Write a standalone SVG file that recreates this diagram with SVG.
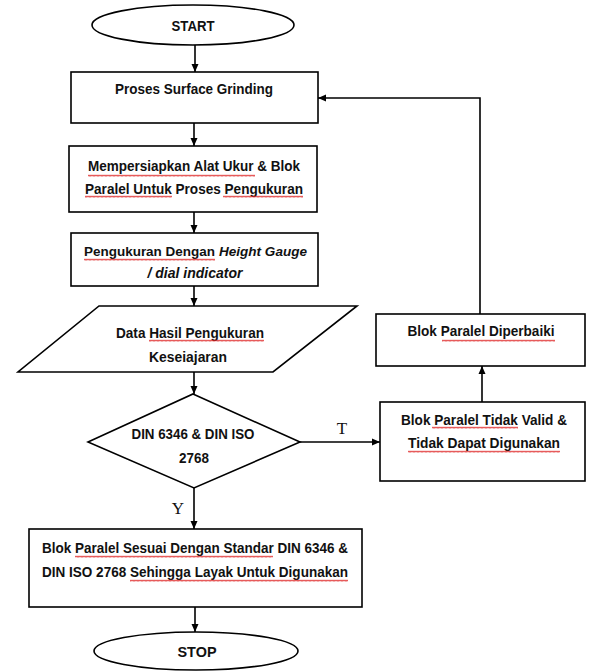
<svg xmlns="http://www.w3.org/2000/svg" width="592" height="671" viewBox="0 0 592 671">
<style>
.shape{fill:#fff;stroke:#000;stroke-width:1.6}
.t{font-family:"Liberation Sans Narrow","Liberation Sans",Arial,sans-serif;font-weight:bold;font-size:15px;fill:#111;text-anchor:middle}
.l{text-anchor:start;font-size:13px}
.it{font-style:italic}
.lbl{font-family:"Liberation Serif","Times New Roman",serif;font-size:17px;fill:#111;text-anchor:middle}
.conn{fill:none;stroke:#000;stroke-width:1.6}
.sq{fill:url(#squig)}
</style>
<defs>
<marker id="ah" markerUnits="userSpaceOnUse" markerWidth="9" markerHeight="9" refX="8" refY="4" orient="auto">
<path d="M0,0.5 L8,4 L0,7.5 z" fill="#000"/>
</marker>
<pattern id="squig" patternUnits="userSpaceOnUse" width="4" height="3">
<path d="M0,2.5 L1,0.8 L2,2.5 L3,0.8 L4,2.5" fill="none" stroke="#d22" stroke-width="0.8"/>
</pattern>
</defs>

<g id="connectors">
<line class="conn" x1="195" y1="45" x2="195" y2="72" marker-end="url(#ah)"/>
<line class="conn" x1="194" y1="123" x2="194" y2="146" marker-end="url(#ah)"/>
<line class="conn" x1="194" y1="212" x2="194" y2="233" marker-end="url(#ah)"/>
<line class="conn" x1="194" y1="286" x2="194" y2="306" marker-end="url(#ah)"/>
<line class="conn" x1="194" y1="372" x2="194" y2="394" marker-end="url(#ah)"/>
<line class="conn" x1="300" y1="442" x2="380" y2="442" marker-end="url(#ah)"/>
<line class="conn" x1="194" y1="488" x2="194" y2="529" marker-end="url(#ah)"/>
<line class="conn" x1="195" y1="607" x2="195" y2="632" marker-end="url(#ah)"/>
<line class="conn" x1="482" y1="402" x2="482" y2="366" marker-end="url(#ah)"/>
<path class="conn" d="M480,314 V98 H318" marker-end="url(#ah)"/>
<text class="lbl" x="342" y="434">T</text>
<text class="lbl" x="178" y="514">Y</text>
</g>

<g id="start">
<ellipse class="shape" cx="193" cy="25" rx="101" ry="20"/>
<text class="t" x="193" y="31" textLength="43" lengthAdjust="spacingAndGlyphs">START</text>
</g>

<g id="grinding">
<rect class="shape" x="71" y="72" width="247" height="51"/>
<text class="t" x="194" y="94" textLength="158" lengthAdjust="spacingAndGlyphs">Proses Surface Grinding</text>
</g>

<g id="persiapan">
<rect class="shape" x="69" y="146" width="248" height="66"/>
<text class="t" x="194" y="171" textLength="212" lengthAdjust="spacingAndGlyphs">Mempersiapkan Alat Ukur &amp; Blok</text>
<text class="t" x="194" y="194" textLength="218" lengthAdjust="spacingAndGlyphs">Paralel Untuk Proses Pengukuran</text>
<rect class="sq" x="88" y="174" width="167" height="3"/>
<rect class="sq" x="85" y="195" width="87" height="3"/>
<rect class="sq" x="223" y="195" width="80" height="3"/>
</g>

<g id="pengukuran">
<rect class="shape" x="71" y="233" width="247" height="53"/>
<text class="t l" x="84" y="256" textLength="131" lengthAdjust="spacingAndGlyphs">Pengukuran Dengan</text>
<text class="t l it" x="219" y="256" textLength="88" lengthAdjust="spacingAndGlyphs">Height Gauge</text>
<text class="t it" x="195" y="278" textLength="95" lengthAdjust="spacingAndGlyphs">/ dial indicator</text>
<rect class="sq" x="84" y="258" width="131" height="3"/>
</g>

<g id="data">
<polygon class="shape" points="99,306 357,306 273,372 18,372"/>
<text class="t" x="190" y="338" textLength="148" lengthAdjust="spacingAndGlyphs">Data Hasil Pengukuran</text>
<text class="t" x="188" y="362" textLength="78" lengthAdjust="spacingAndGlyphs">Keseiajaran</text>
<rect class="sq" x="149" y="339" width="115" height="3"/>
</g>

<g id="decision">
<polygon class="shape" points="193,394 300,442 194,488 88,442"/>
<text class="t" x="193" y="439" textLength="123" lengthAdjust="spacingAndGlyphs">DIN 6346 &amp; DIN ISO</text>
<text class="t" x="194" y="463" textLength="30" lengthAdjust="spacingAndGlyphs">2768</text>
</g>

<g id="tidak-valid">
<rect class="shape" x="380" y="402" width="205" height="79"/>
<text class="t" x="484" y="425" textLength="166" lengthAdjust="spacingAndGlyphs">Blok Paralel Tidak Valid &amp;</text>
<text class="t" x="484" y="448" textLength="152" lengthAdjust="spacingAndGlyphs">Tidak Dapat Digunakan</text>
<rect class="sq" x="432" y="426" width="86" height="3"/>
<rect class="sq" x="408" y="450" width="152" height="3"/>
</g>

<g id="diperbaiki">
<rect class="shape" x="376" y="314" width="209" height="52"/>
<text class="t" x="481" y="336" textLength="147" lengthAdjust="spacingAndGlyphs">Blok Paralel Diperbaiki</text>
<rect class="sq" x="442" y="339" width="113" height="3"/>
</g>

<g id="sesuai">
<rect class="shape" x="29" y="529" width="333" height="78"/>
<text class="t" x="195" y="553" textLength="306" lengthAdjust="spacingAndGlyphs">Blok Paralel Sesuai Dengan Standar DIN 6346 &amp;</text>
<text class="t" x="195" y="577" textLength="306" lengthAdjust="spacingAndGlyphs">DIN ISO 2768 Sehingga Layak Untuk Digunakan</text>
<rect class="sq" x="75" y="555" width="198" height="3"/>
<rect class="sq" x="130" y="579" width="218" height="3"/>
</g>

<g id="stop">
<ellipse class="shape" cx="196" cy="651" rx="102" ry="19"/>
<text class="t" x="197" y="657" textLength="39" lengthAdjust="spacingAndGlyphs">STOP</text>
</g>
</svg>
